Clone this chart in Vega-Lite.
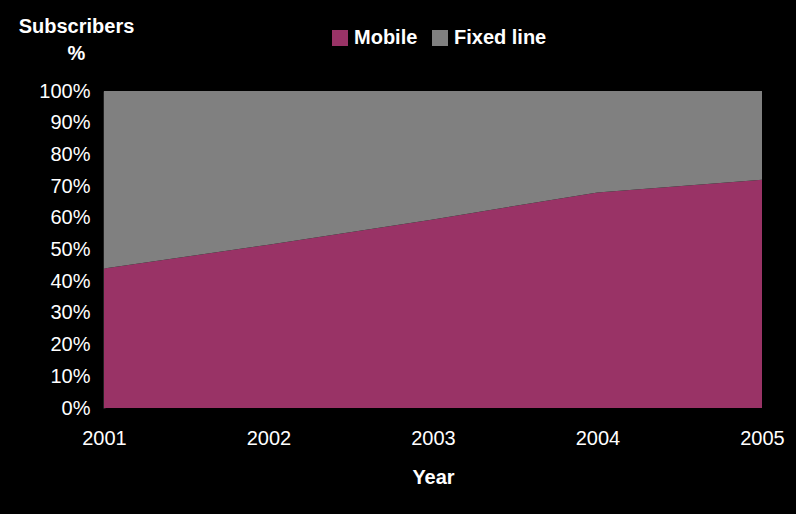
{
  "$schema": "https://vega.github.io/schema/vega-lite/v6.json",
  "width": 658,
  "height": 317,
  "autosize": "none",
  "padding": {"left": 104, "top": 91, "right": 34, "bottom": 106},
  "background": "#000000",
  "config": {
    "view": {"stroke": null},
    "font": "Liberation Sans"
  },
  "data": {
    "values": [
      {"Year": 2001, "Type": "Mobile", "Share": 44},
      {"Year": 2002, "Type": "Mobile", "Share": 51.5},
      {"Year": 2003, "Type": "Mobile", "Share": 59.5},
      {"Year": 2004, "Type": "Mobile", "Share": 68},
      {"Year": 2005, "Type": "Mobile", "Share": 72},
      {"Year": 2001, "Type": "Fixed line", "Share": 56},
      {"Year": 2002, "Type": "Fixed line", "Share": 48.5},
      {"Year": 2003, "Type": "Fixed line", "Share": 40.5},
      {"Year": 2004, "Type": "Fixed line", "Share": 32},
      {"Year": 2005, "Type": "Fixed line", "Share": 28}
    ]
  },
  "mark": {"type": "area", "opacity": 1},
  "encoding": {
    "x": {
      "field": "Year",
      "type": "quantitative",
      "scale": {"domain": [2001, 2005], "nice": false, "zero": false},
      "axis": {
        "format": "d",
        "values": [2001, 2002, 2003, 2004, 2005],
        "grid": false,
        "domain": false,
        "ticks": false,
        "labelColor": "#ffffff",
        "labelFontSize": 20,
        "labelPadding": 20,
        "labelFlush": false,
        "title": "Year",
        "titleColor": "#ffffff",
        "titleFontSize": 20,
        "titleFontWeight": "bold",
        "titlePadding": 19
      }
    },
    "y": {
      "field": "Share",
      "type": "quantitative",
      "stack": "zero",
      "scale": {"domain": [0, 100], "nice": false},
      "axis": {
        "values": [0, 10, 20, 30, 40, 50, 60, 70, 80, 90, 100],
        "labelExpr": "datum.value + '%'",
        "grid": false,
        "domain": true,
        "domainColor": "#404040",
        "domainWidth": 2,
        "ticks": false,
        "labelColor": "#ffffff",
        "labelFontSize": 20,
        "labelPadding": 14,
        "title": ["Subscribers", "%"],
        "titleColor": "#ffffff",
        "titleFontSize": 20,
        "titleFontWeight": "bold",
        "titleAngle": 0,
        "titleAlign": "center",
        "titleBaseline": "alphabetic",
        "titleX": -28,
        "titleY": -59,
        "titleLineHeight": 27
      }
    },
    "color": {
      "field": "Type",
      "type": "nominal",
      "scale": {"domain": ["Mobile", "Fixed line"], "range": ["#993366", "#808080"]},
      "legend": {
        "orient": "none",
        "legendX": 226,
        "legendY": -63,
        "direction": "horizontal",
        "title": null,
        "symbolType": "square",
        "symbolSize": 256,
        "symbolStrokeWidth": 0,
        "labelColor": "#ffffff",
        "labelFontSize": 20,
        "labelFontWeight": "bold",
        "labelOffset": 4,
        "columnPadding": 12
      }
    },
    "order": {"field": "Type", "sort": "descending"}
  }
}
